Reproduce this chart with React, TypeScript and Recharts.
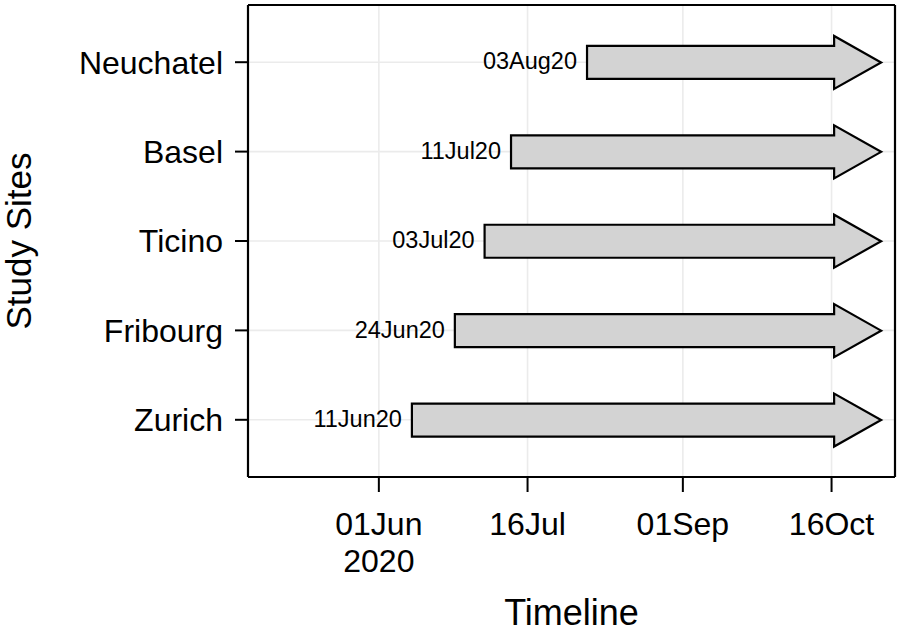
import React from 'react';
import { BarChart, Bar, XAxis, YAxis, CartesianGrid } from 'recharts';

const sites = ['Neuchatel', 'Basel', 'Ticino', 'Fribourg', 'Zurich'];
const startDates = ['2020-08-03', '2020-07-11', '2020-07-03', '2020-06-24', '2020-06-11'];
const startLabels = ['03Aug20', '11Jul20', '03Jul20', '24Jun20', '11Jun20'];
const endDate = '2020-10-31';
const tickDates = ['2020-06-01', '2020-07-16', '2020-09-01', '2020-10-16'];
const tickLabels: string[][] = [['01Jun', '2020'], ['16Jul'], ['01Sep'], ['16Oct']];

const DAY = 86400000;
const toTs = (s: string) => Date.parse(s + 'T00:00:00Z');
const domainMin = toTs('2020-06-01') - 39.6 * DAY;
const domainMax = toTs('2020-10-16') + 19.2 * DAY;
const tickTs = tickDates.map(toTs);

const data = sites.map((site, i) => ({
  site,
  range: [toTs(startDates[i]), toTs(endDate)],
  label: startLabels[i],
}));

const FONT = '"Liberation Sans", Arial, Helvetica, sans-serif';
const BORDER = { stroke: '#000', strokeWidth: 2.2 };

const Arrow = (props: any) => {
  const { x, y, width, height, payload } = props;
  const cy = y + height / 2;
  const x0 = x;
  const x1 = x + width;
  const head = 47;
  const bh = 16.5;
  const hh = 26.5;
  const xb = x1 - head;
  const pts = `${x0},${cy - bh} ${xb},${cy - bh} ${xb},${cy - hh} ${x1},${cy} ${xb},${cy + hh} ${xb},${cy + bh} ${x0},${cy + bh}`;
  return (
    <g>
      <polygon points={pts} fill="#d3d3d3" stroke="#000" strokeWidth={2.2} strokeLinejoin="miter" />
      <text x={x0 - 10} y={cy + 7} textAnchor="end" fontSize={23.5} fontFamily={FONT} fill="#000">
        {payload.label}
      </text>
    </g>
  );
};

const XTick = (props: any) => {
  const { x, y, payload } = props;
  const idx = tickTs.indexOf(payload.value);
  const lines = idx >= 0 ? tickLabels[idx] : [];
  return (
    <g>
      {lines.map((l, i) => (
        <text key={i} x={x} y={y + 41 + i * 37} textAnchor="middle" fontSize={32} fontFamily={FONT} fill="#000">
          {l}
        </text>
      ))}
    </g>
  );
};

const XTitle = (props: any) => {
  const vb = props.viewBox;
  return (
    <text x={vb.x + vb.width / 2} y={625} textAnchor="middle" fontSize={36} fontFamily={FONT} fill="#000">
      Timeline
    </text>
  );
};

const YTitle = (props: any) => {
  const vb = props.viewBox;
  const cy = vb.y + vb.height / 2;
  return (
    <text x={31} y={cy} transform={`rotate(-90, 31, ${cy})`} textAnchor="middle" fontSize={35} fontFamily={FONT} fill="#000">
      Study Sites
    </text>
  );
};

export default function App() {
  return (
    <div style={{ position: 'absolute', left: 0, top: 0, width: 901, height: 635, background: '#fff' }}>
      <BarChart
        width={901}
        height={635}
        data={data}
        layout="vertical"
        margin={{ top: 4, right: 5, bottom: 0, left: 0 }}
      >
        <CartesianGrid stroke="#ebebeb" strokeWidth={1.6} />
        <XAxis
          type="number"
          domain={[domainMin, domainMax]}
          ticks={tickTs}
          allowDataOverflow
          height={158}
          axisLine={BORDER}
          tickSize={15}
          tickLine={{ stroke: '#000', strokeWidth: 2 }}
          tick={<XTick />}
          label={<XTitle />}
        />
        <XAxis
          xAxisId="top"
          orientation="top"
          type="number"
          domain={[domainMin, domainMax]}
          ticks={tickTs}
          allowDataOverflow
          height={1}
          axisLine={BORDER}
          tick={false}
          tickLine={false}
        />
        <YAxis
          type="category"
          dataKey="site"
          width={248}
          padding={{ top: 12.5, bottom: 12.5 }}
          axisLine={BORDER}
          tickSize={13}
          tickMargin={12}
          tickLine={{ stroke: '#000', strokeWidth: 2 }}
          tick={{ fill: '#000', fontSize: 32, fontFamily: FONT }}
          label={<YTitle />}
        />
        <YAxis
          yAxisId="right"
          orientation="right"
          type="category"
          dataKey="site"
          width={1}
          axisLine={BORDER}
          tick={false}
          tickLine={false}
        />
        <Bar dataKey="range" shape={<Arrow />} isAnimationActive={false} />
      </BarChart>
    </div>
  );
}
